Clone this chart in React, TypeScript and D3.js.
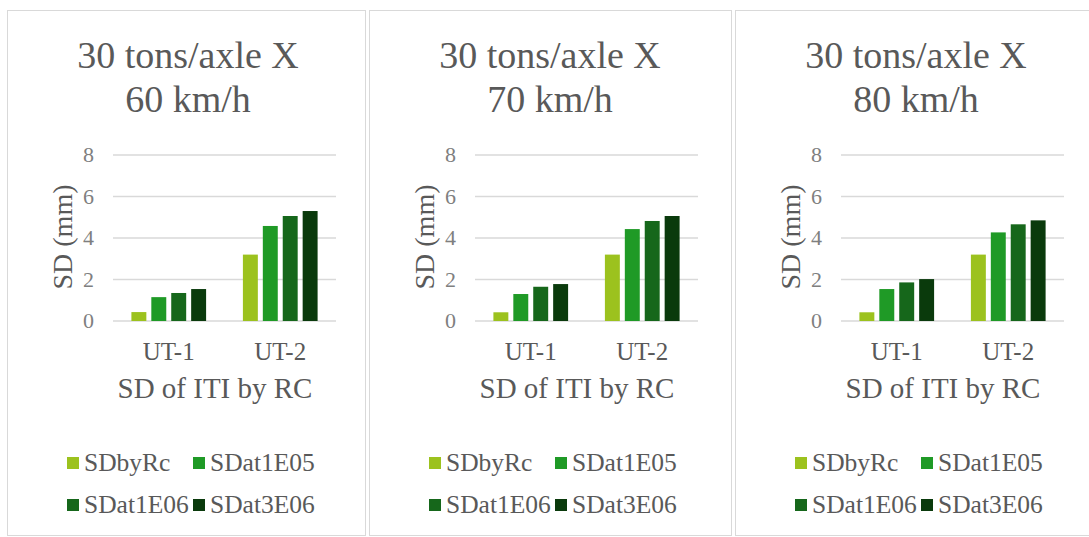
import React from "react";
import * as d3 from "d3";

// categories on the x axis, series in the legend
const categories = ["UT-1", "UT-2"];
const seriesNames = ["SDbyRc", "SDat1E05", "SDat1E06", "SDat3E06"];
const seriesColors = ["#9cc21e", "#1f9a26", "#16671b", "#0a3a0c"];
const speedLabels = ["60 km/h", "70 km/h", "80 km/h"];
const yTicks = [0, 2, 4, 6, 8];

// SD (mm) per series
const ut1At60 = [0.43, 1.15, 1.35, 1.54];
const ut2At60 = [3.2, 4.58, 5.06, 5.3];
const ut1At70 = [0.42, 1.3, 1.65, 1.78];
const ut2At70 = [3.2, 4.43, 4.82, 5.06];
const ut1At80 = [0.42, 1.54, 1.86, 2.02];
const ut2At80 = [3.2, 4.27, 4.66, 4.85];

const valuesBySpeed = [
  [ut1At60, ut2At60],
  [ut1At70, ut2At70],
  [ut1At80, ut2At80],
];

// panel frames (left, width)
const frames = [
  { x: 7, w: 358 },
  { x: 369, w: 362 },
  { x: 735, w: 362 },
];

const W = 1089;
const H = 537;
const serif = "Liberation Serif";
const textColor = "#595959";

const Panel: React.FC<{ idx: number }> = ({ idx }) => {
  const { x: L, w } = frames[idx];
  const plotLeft = L + 106;
  const plotRight = L + 329;

  const y = d3.scaleLinear().domain([0, 8]).range([321, 155]);

  const x0 = d3
    .scaleBand()
    .domain(categories)
    .range([plotLeft, plotRight])
    .paddingInner(0.33)
    .paddingOuter(0.165);

  const x1 = d3
    .scaleBand()
    .domain(seriesNames)
    .range([0, x0.bandwidth()])
    .paddingInner(0.25);

  const color = d3.scaleOrdinal<string>().domain(seriesNames).range(seriesColors);

  const values = valuesBySpeed[idx];
  const cx = L + 181;

  return (
    <g>
      <rect x={L + 0.5} y={10.5} width={w} height={525} fill="#fff" stroke="#d9d9d9" />
      {/* title */}
      <text x={cx} y={68} textAnchor="middle" fontFamily={serif} fontSize={38} fill={textColor}>
        30 tons/axle X
      </text>
      <text x={cx} y={112} textAnchor="middle" fontFamily={serif} fontSize={38} fill={textColor}>
        {speedLabels[idx]}
      </text>

      {/* grid + y ticks */}
      {yTicks.map((t) => (
        <g key={t}>
          <line x1={plotLeft} x2={plotRight} y1={y(t)} y2={y(t)} stroke="#d9d9d9" strokeWidth={1.5} />
          <text x={L + 87} y={y(t) + 7} textAnchor="end" fontFamily={serif} fontSize={22} fill="#7f7f7f">
            {t}
          </text>
        </g>
      ))}

      {/* bars */}
      {categories.map((c, ci) => (
        <g key={c} transform={`translate(${x0(c)},0)`}>
          {seriesNames.map((s, si) => (
            <rect
              key={s}
              x={x1(s)}
              y={y(values[ci][si])}
              width={x1.bandwidth()}
              height={y(0) - y(values[ci][si])}
              fill={color(s)}
            />
          ))}
        </g>
      ))}

      {/* x labels */}
      {categories.map((c) => (
        <text
          key={c}
          x={x0(c)! + x0.bandwidth() / 2}
          y={360}
          textAnchor="middle"
          fontFamily={serif}
          fontSize={25}
          fill={textColor}
        >
          {c}
        </text>
      ))}

      {/* axis titles */}
      <text x={L + 208} y={398} textAnchor="middle" fontFamily={serif} fontSize={29} fill={textColor}>
        SD of ITI by RC
      </text>
      <text
        transform={`translate(${L + 65},237) rotate(-90)`}
        textAnchor="middle"
        fontFamily={serif}
        fontSize={28}
        fill={textColor}
      >
        SD (mm)
      </text>

      {/* legend */}
      {seriesNames.map((s, i) => {
        const lx = L + (i % 2 === 0 ? 60 : 186);
        const ly = i < 2 ? 463 : 505;
        return (
          <g key={s}>
            <rect x={lx} y={ly - 6} width={12} height={12} fill={color(s)} />
            <text x={lx + 17} y={ly + 8} fontFamily={serif} fontSize={25.5} fill={textColor}>
              {s}
            </text>
          </g>
        );
      })}
    </g>
  );
};

export default function App() {
  return (
    <svg
      width={W}
      height={H}
      style={{ position: "absolute", left: 0, top: 0, background: "#fff" }}
    >
      <rect width={W} height={H} fill="#fff" />
      {speedLabels.map((_, i) => (
        <Panel key={i} idx={i} />
      ))}
    </svg>
  );
}
